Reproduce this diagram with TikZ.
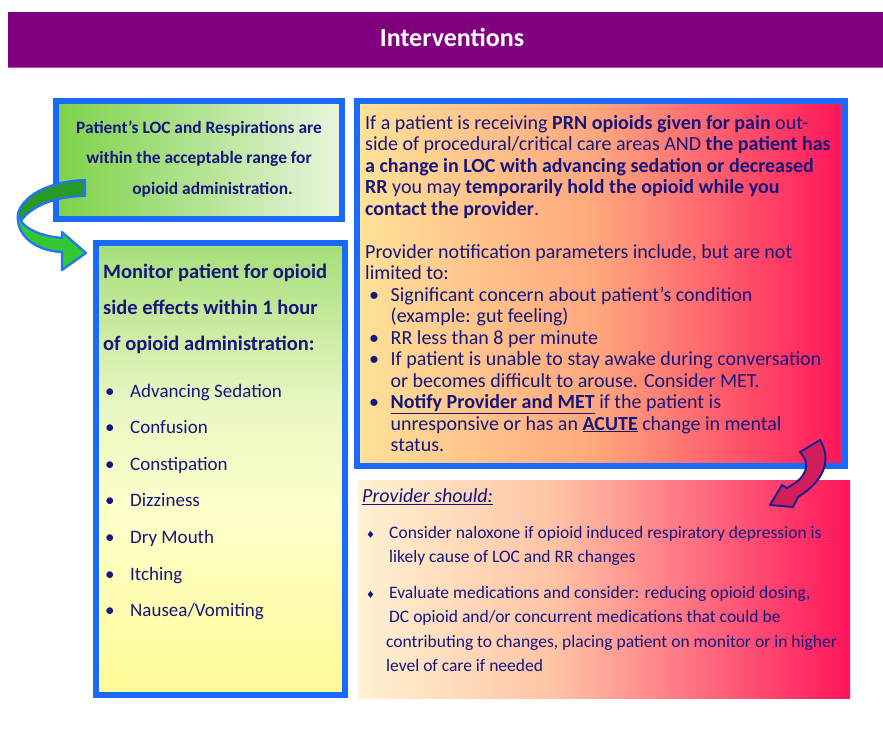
\documentclass[tikz,border=0pt]{standalone}
\usepackage{fontspec}
\setmainfont{Carlito}
\newfontfamily\djv{DejaVu Sans}
\definecolor{navy}{RGB}{22,22,125}
\definecolor{bord}{RGB}{25,105,250}
\definecolor{purp}{RGB}{128,0,128}
\definecolor{purpline}{RGB}{175,90,175}
\definecolor{tlL}{RGB}{125,210,72}
\definecolor{tlR}{RGB}{234,245,222}
\definecolor{lb1}{RGB}{255,250,150}
\definecolor{lb2}{RGB}{255,255,202}
\definecolor{lb3}{RGB}{232,247,195}
\definecolor{lb4}{RGB}{165,222,120}
\definecolor{rt1}{RGB}{255,226,152}
\definecolor{rt2}{RGB}{255,165,125}
\definecolor{rt3}{RGB}{255,20,90}
\definecolor{rb1}{RGB}{255,242,210}
\definecolor{rb2}{RGB}{255,195,165}
\definecolor{rb3}{RGB}{255,20,90}
\definecolor{gdark}{RGB}{40,152,40}
\definecolor{gbright}{RGB}{50,200,50}
\definecolor{gline}{RGB}{30,115,255}
\definecolor{redfill}{RGB}{212,30,92}
\definecolor{redline}{RGB}{30,30,140}
\pgfdeclareverticalshading{lshade}{100bp}{color(0bp)=(lb1); color(25bp)=(lb1); color(45bp)=(lb2); color(57.5bp)=(lb3); color(75bp)=(lb4); color(100bp)=(lb4)}
\pgfdeclarehorizontalshading{rtshade}{100bp}{color(0bp)=(rt1); color(25bp)=(rt1); color(50bp)=(rt2); color(75bp)=(rt3); color(100bp)=(rt3)}
\pgfdeclarehorizontalshading{rbshade}{100bp}{color(0bp)=(rb1); color(25bp)=(rb1); color(45bp)=(rb2); color(75bp)=(rb3); color(100bp)=(rb3)}
\newcommand\mybul{\makebox[24pt][l]{\textbullet}}
\newcommand\rbul{\hspace*{4pt}\makebox[21.5pt][l]{\textbullet}}
\newcommand\rind{\hspace*{25.5pt}}
\newcommand\dbul{\makebox[23pt][l]{{\djv\fontsize{10}{10}\selectfont ♦}}}
\tikzset{
  boxborder/.style={draw=bord, line width=6pt},
  txt/.style={anchor=base west, inner sep=0pt, text=navy},
}
\begin{document}
\begin{tikzpicture}[x=1pt,y=-1pt]
\useasboundingbox (0,0) rectangle (883,753);
% title bar
\fill[purp] (8,12) rectangle (883,68);
\draw[purpline, line width=1.5pt] (8,67.5) -- (883,67.5);
\node[text=white, font=\fontsize{26}{30}\selectfont\bfseries] (title) at (452,37) {Interventions};
% top-left box
\shade[left color=tlL, right color=tlR] (56,101) rectangle (342,219);
\draw[boxborder] (56,101) rectangle (342,219);
% left big box
\fill[shading=lshade] (96,243) rectangle (345,695);
\draw[boxborder] (96,243) rectangle (345,695);
% right top box
\fill[shading=rtshade] (357,101) rectangle (845,466);
\draw[boxborder] (357,101) rectangle (845,466);
% bottom right box
\fill[shading=rbshade] (358,480) rectangle (850,698);
% texts
\node[txt, anchor=base] (tl) at (199,133) {\begin{minipage}[t]{280pt}\centering\bfseries\fontsize{17.4}{30.5}\selectfont
Patient’s LOC and Respirations are\\
within the acceptable range for\\
\hspace*{27pt}opioid administration.\end{minipage}};
\node[txt] (lt) at (103,278) {\begin{minipage}[t]{250pt}\raggedright\bfseries\fontsize{20.5}{36}\selectfont
Monitor patient for opioid\\
side effects within 1 hour\\
of opioid administration:\end{minipage}};
\node[txt] (lb) at (105,397) {\begin{minipage}[t]{230pt}\raggedright\fontsize{19}{36.6}\selectfont
\makebox[25pt][l]{\textbullet}Advancing Sedation\\
\makebox[25pt][l]{\textbullet}Confusion\\
\makebox[25pt][l]{\textbullet}Constipation\\
\makebox[25pt][l]{\textbullet}Dizziness\\
\makebox[25pt][l]{\textbullet}Dry Mouth\\
\makebox[25pt][l]{\textbullet}Itching\\
\makebox[25pt][l]{\textbullet}Nausea/Vomiting\end{minipage}};
\node[txt] (rt) at (365,129) {\begin{minipage}[t]{500pt}\raggedright\fontsize{20}{21.5}\selectfont
If a patient is receiving \textbf{PRN opioids given for pain} out-\\
side of procedural/critical care areas AND \textbf{the patient has}\\
\textbf{a change in LOC with advancing sedation or decreased}\\
\textbf{RR} you may \textbf{temporarily hold the opioid while you}\\
\textbf{contact the provider}.\\[21.5pt]
Provider notification parameters include, but are not\\
limited to:\\
\rbul Significant concern about patient’s condition\\
\rind (example: gut feeling)\\
\rbul RR less than 8 per minute\\
\rbul If patient is unable to stay awake during conversation\\
\rind or becomes difficult to arouse. Consider MET.\\
\rbul \underline{\textbf{Notify Provider and MET}} if the patient is\\
\rind unresponsive or has an \underline{\textbf{ACUTE}} change in mental\\
\rind status.\end{minipage}};
\node[txt] (rbh) at (362,502.5) {\fontsize{20}{24}\selectfont\itshape\underline{Provider should:}};
\node[txt] (rb) at (366,538) {\begin{minipage}[t]{500pt}\raggedright\fontsize{17.5}{24.5}\selectfont
\dbul Consider naloxone if opioid induced respiratory depression is\\
\hspace*{23pt}likely cause of LOC and RR changes\\[11pt]
\dbul Evaluate medications and consider: reducing opioid dosing,\\
\hspace*{23pt}DC opioid and/or concurrent medications that could be\\
\hspace*{20pt}contributing to changes, placing patient on monitor or in higher\\
\hspace*{20pt}level of care if needed\end{minipage}};
% green curved arrow
\fill[gdark] (85,180) .. controls (55,181) and (25,192) .. (18,213) -- (21,221) .. controls (30,207) and (55,196) .. (85,196) -- cycle;
\fill[gbright] (18,213) .. controls (15,235) and (35,251) .. (62,252) -- (62,270) -- (86,253) -- (62,232) -- (62,238) .. controls (42,236) and (27,230) .. (21,221) -- cycle;
\draw[gline, line width=2.2pt, line join=round] (85,180) .. controls (55,181) and (25,192) .. (18,213) .. controls (15,235) and (35,251) .. (62,252) -- (62,270) -- (86,253) -- (62,232) -- (62,238) .. controls (42,236) and (27,230) .. (21,221) .. controls (30,207) and (55,196) .. (85,196) -- cycle;
\draw[gline, line width=1.5pt] (18,213) -- (21,221);
% red curved arrow
\filldraw[fill=redfill, draw=redline, line width=2pt, line join=round] (800,452) .. controls (812,465) and (806,478) .. (787,488) -- (782,485) -- (770,505) -- (793,507) -- (798,497) .. controls (822,482) and (833,462) .. (820,440) -- cycle;
\end{tikzpicture}
\end{document}
